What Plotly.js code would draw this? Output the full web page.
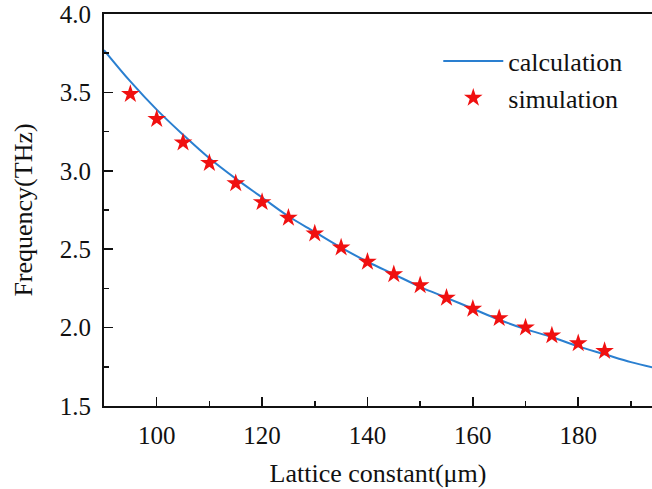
<!DOCTYPE html>
<html>
<head>
<meta charset="utf-8">
<script src="https://cdn.plot.ly/plotly-3.0.1.min.js"></script>
<style>
html,body{margin:0;padding:0;background:#fff;}
#chart{width:652px;height:489px;}
</style>
</head>
<body>
<div id="chart"></div>
<script>
const calcX = [90, 95, 100, 105, 110, 115, 120, 125, 130, 135, 140, 145, 150, 155, 160, 165, 170, 175, 180, 185, 190, 195];
const calcY = [3.77, 3.57, 3.39, 3.23, 3.08, 2.95, 2.83, 2.71, 2.61, 2.51, 2.42, 2.34, 2.26, 2.19, 2.12, 2.05, 1.99, 1.94, 1.88, 1.83, 1.78, 1.74];
const simX = [95, 100, 105, 110, 115, 120, 125, 130, 135, 140, 145, 150, 155, 160, 165, 170, 175, 180, 185];
const simY = [3.49, 3.33, 3.18, 3.05, 2.92, 2.80, 2.70, 2.60, 2.51, 2.42, 2.34, 2.27, 2.19, 2.12, 2.06, 2.00, 1.95, 1.90, 1.85];

function serifFont(sz) { return {family: 'Liberation Serif', size: sz, color: '#111'}; }
const traces = [
  {x: calcX, y: calcY, mode: 'lines', name: 'calculation', line: {color: '#2a7fd0', width: 2, shape: 'spline'}},
  {x: simX, y: simY, mode: 'markers', name: 'simulation', marker: {symbol: 'star', size: 14, color: '#f01010', line: {width: 0}}}
];
const layout = {
  width: 652, height: 489,
  margin: {l: 104, r: 0, t: 14, b: 83},
  paper_bgcolor: '#fff', plot_bgcolor: '#fff',
  font: serifFont(26),
  showlegend: true,
  legend: {x: 0.61, y: 0.94, xanchor: 'left', yanchor: 'top', bgcolor: 'rgba(0,0,0,0)', font: serifFont(26), itemwidth: 60, tracegroupgap: 0},
  xaxis: {
    range: [90, 194], tick0: 0, dtick: 20, ticks: 'inside', ticklen: 9, tickwidth: 1.5, tickcolor: '#111',
    showline: true, linecolor: '#111', linewidth: 2, mirror: true, showgrid: false, zeroline: false,
    minor: {dtick: 10, tick0: 0, ticks: 'inside', ticklen: 5, tickwidth: 1.5, tickcolor: '#111', showgrid: false},
    tickfont: serifFont(25), ticklabelstandoff: 6,
    title: {text: 'Lattice constant(μm)', font: serifFont(26), standoff: 16}
  },
  yaxis: {
    range: [1.5, 4.0], tick0: 0, dtick: 0.5, tickformat: '.1f', ticks: 'inside', ticklen: 9, tickwidth: 1.5, tickcolor: '#111',
    showline: true, linecolor: '#111', linewidth: 2, mirror: false, showgrid: false, zeroline: false,
    minor: {dtick: 0.25, tick0: 0, ticks: 'inside', ticklen: 5, tickwidth: 1.5, tickcolor: '#111', showgrid: false},
    tickfont: serifFont(25), ticklabelstandoff: 6,
    title: {text: 'Frequency(THz)', font: serifFont(26), standoff: 20}
  }
};
Plotly.newPlot('chart', traces, layout, {displayModeBar: false, staticPlot: true});
</script>
</body>
</html>
